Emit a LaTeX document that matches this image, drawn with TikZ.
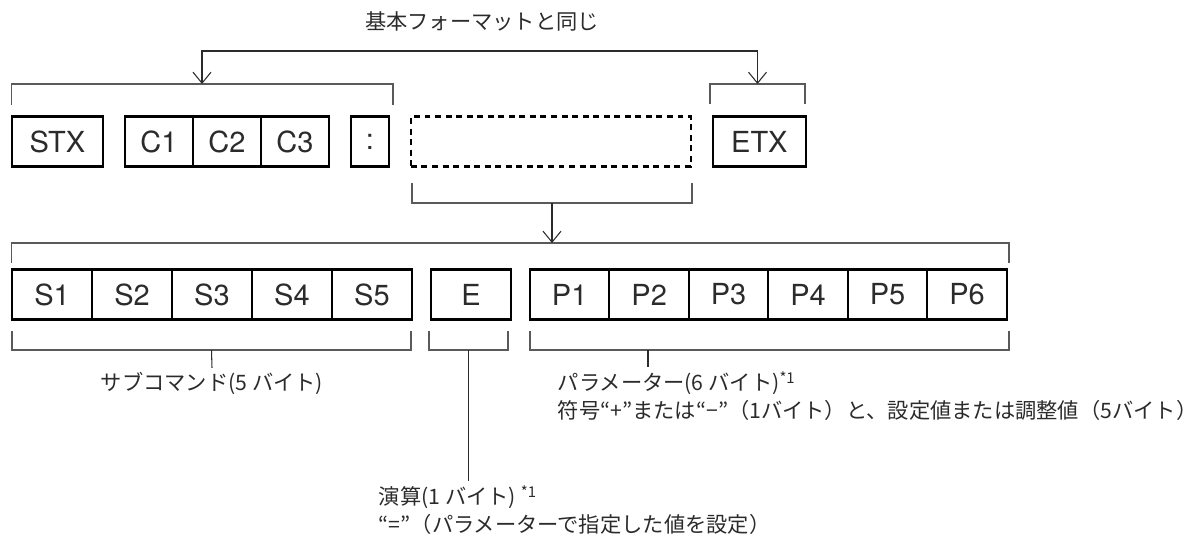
\documentclass[tikz,border=0pt]{standalone}
\usepackage{fontspec}
\setmainfont{Noto Sans CJK JP}
\newfontfamily\cellfont{TeX Gyre Heros}
\usetikzlibrary{positioning,arrows.meta}
\definecolor{brkgray}{HTML}{5A5A5A}
\definecolor{txtgray}{HTML}{2B2B2B}

\begin{document}
\begin{tikzpicture}
    [x=0.02cm, y=-0.02cm,
    node distance=0.44cm,
    >={Straight Barb[length=2.2mm,width=3.6mm]},
    cell/.style={draw, line width=1.2pt, outer sep=0pt, inner sep=0pt, minimum height=1cm,
        font=\cellfont\fontsize{16.5}{18}\selectfont, text=txtgray},
    dashcell/.style={draw, line width=1.2pt, dash pattern=on 3.4pt off 2.6pt, outer sep=0pt,
        minimum height=1cm, minimum width=5.6cm},
    brk/.style={draw=brkgray, line width=0.7pt},
    link/.style={draw=txtgray, line width=0.6pt},
    note/.style={inner sep=2pt, text=txtgray, font=\fontsize{12.1}{15}\selectfont}]
    \useasboundingbox (0,0) rectangle (1202,534);

        %% Row 1: basic format
        \node[cell, minimum width=1.82cm] (STX) at (57.5,141.5) {STX};
        \node[cell, minimum width=1.36cm, right=of STX] (C1) {C1};
        \node[cell, minimum width=1.36cm, right=0pt of C1] (C2) {C2};
        \node[cell, minimum width=1.36cm, right=0pt of C2] (C3) {C3};
        \node[cell, minimum width=0.76cm, right=of C3] (colon) {:};
        \node[dashcell, right=of colon] (data) {};
        \node[cell, minimum width=1.86cm, right=of data] (ETX) {ETX};

        %% Row 2: data part
        \node[cell, minimum width=1.6cm] (S1) at (52,294.5) {S1};
        \node[cell, minimum width=1.6cm, right=0pt of S1] (S2) {S2};
        \node[cell, minimum width=1.6cm, right=0pt of S2] (S3) {S3};
        \node[cell, minimum width=1.6cm, right=0pt of S3] (S4) {S4};
        \node[cell, minimum width=1.6cm, right=0pt of S4] (S5) {S5};
        \node[cell, minimum width=1.6cm, right=0.38cm of S5] (E) {E};
        \node[cell, minimum width=1.59cm, right=0.38cm of E] (P1) {P1};
        \node[cell, minimum width=1.59cm, right=0pt of P1] (P2) {P2};
        \node[cell, minimum width=1.59cm, right=0pt of P2] (P3) {P3};
        \node[cell, minimum width=1.59cm, right=0pt of P3] (P4) {P4};
        \node[cell, minimum width=1.59cm, right=0pt of P4] (P5) {P5};
        \node[cell, minimum width=1.59cm, right=0pt of P5] (P6) {P6};

        %% Brackets
        \draw[brk] (11.5,105) -- (11.5,84) -- (393,84) -- (393,105);
        \draw[brk] (710,104) -- (710,84) -- (805,84) -- (805,104);
        \draw[brk] (412,183) -- (412,203) -- (692,203) -- (692,183);
        \draw[brk] (11.5,263) -- (11.5,243) -- (1009,243) -- (1009,263);
        \draw[brk] (12,331) -- (12,350) -- (411,350) -- (411,331);
        \draw[brk] (429,331) -- (429,350) -- (508,350) -- (508,331);
        \draw[brk] (530,331) -- (530,350) -- (1009,350) -- (1009,331);

        \coordinate (headL) at (202,84);
        \coordinate (headR) at (757.5,84);
        \coordinate (headTop) at (480,51);
        \coordinate (dataB) at (552,203);
        \coordinate (rowB) at (552,243);
        \coordinate (subB) at (211.5,350);
        \coordinate (opB) at (468.5,350);
        \coordinate (parB) at (648,350);

        %% Labels
        \node[note] (same) at (482,21) {基本フォーマットと同じ};
        \node[note] (sub) at (212,383) {サブコマンド(5 バイト)};
        \node[note, anchor=west] (par) at (554,383) {パラメーター(6 バイト)\textsuperscript{*1}};
        \node[note, below=-0.05cm of par.south west, anchor=north west] (parsign)
            {符号“+”または“−”（1バイト）と、設定値または調整値（5バイト）};
        \node[note, anchor=west] (op) at (375,497) {演算(1 バイト) \textsuperscript{*1}};
        \node[note, below=-0.05cm of op.south west, anchor=north west] (opset)
            {“=”（パラメーターで指定した値を設定）};

        %% Connectors
        \draw[link, <->] (headL) |- (headTop) -| (headR);
        \draw[link, ->] (dataB) -- (rowB);
        \draw[link] (subB) -- (sub.north);
        \draw[link] (opB) -- (opB |- op.north);
        \draw[link] (parB) -- (parB |- par.north);
    \end{tikzpicture}
\end{document}
